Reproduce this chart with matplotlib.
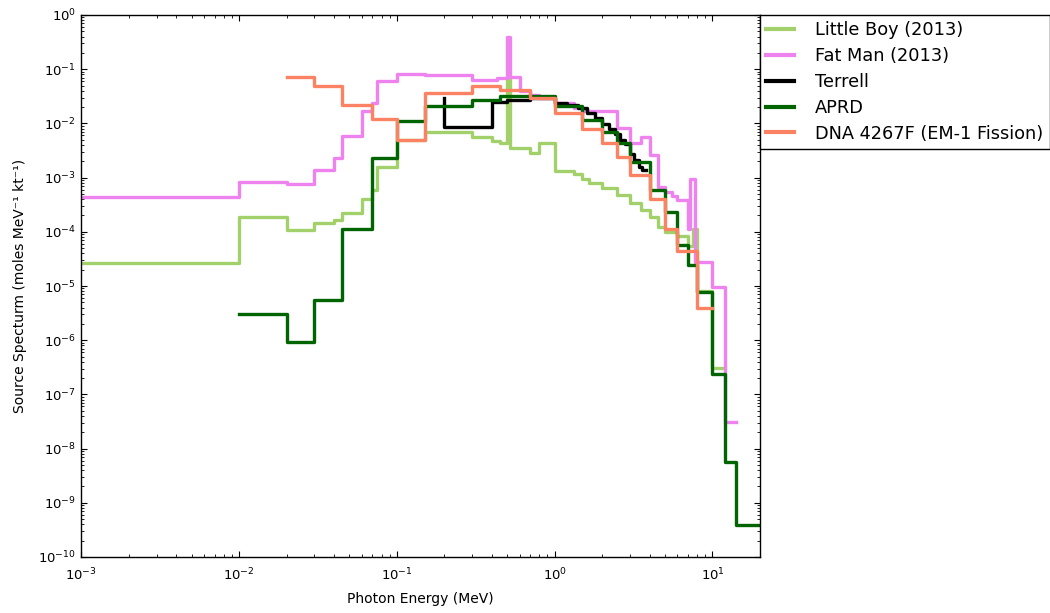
"""
Source photon spectra: Little Boy / Fat Man (2013), Terrell, APRD, DNA 4267F.
Step data, energy upper edges with 'pre' steps (first y = start level).
"""

import matplotlib
matplotlib.use("Agg")
import matplotlib.pyplot as plt
import matplotlib.ticker as ticker
import numpy as np

plt.rcParams.update({
    "font.family": "DejaVu Sans",
    "axes.linewidth": 1.0,
})

# ── data (MeV, moles MeV^-1 kt^-1) ────────────────────────────────────────────
lb_e = [1e-3, 0.01, 0.02, 0.03, 0.04, 0.045, 0.06, 0.07, 0.075, 0.1, 0.15,
        0.3, 0.4, 0.45, 0.5, 0.52, 0.7, 0.8, 1.0, 1.33, 1.5, 1.66, 2.0, 2.5,
        3.0, 3.5, 4.0, 4.5, 5.0, 6.0, 7.0, 7.5, 8.0, 10, 12]
lb_v = [2.7e-5, 2.7e-5, 1.9e-4, 1.07e-4, 1.47e-4, 1.64e-4, 2.27e-4, 3.95e-4,
        5.9e-4, 1.55e-3, 4.9e-3, 6.9e-3, 5.5e-3, 4.8e-3, 4.3e-3, 0.07,
        3.5e-3, 2.9e-3, 4.3e-3, 1.35e-3, 1.15e-3, 9.3e-4, 7.9e-4, 6.4e-4,
        4.8e-4, 3.4e-4, 2.5e-4, 1.9e-4, 1.25e-4, 1.0e-4, 8.5e-5, 5.5e-5,
        1.15e-4, 8e-6, 3.1e-7]

fm_e = [1e-3, 0.01, 0.02, 0.03, 0.04, 0.045, 0.06, 0.07, 0.075, 0.1, 0.15,
        0.3, 0.43, 0.5, 0.52, 0.6, 0.7, 0.8, 1.0, 1.33, 1.5, 2.5, 3.0, 3.5,
        4.0, 4.5, 5.0, 5.5, 6.0, 7.0, 7.2, 7.7, 10, 12, 14]
fm_v = [4.4e-4, 4.4e-4, 8.4e-4, 7.7e-4, 1.38e-3, 2.3e-3, 5.8e-3, 0.0172,
        0.0235, 0.06, 0.0815, 0.078, 0.062, 0.068, 0.39, 0.073, 0.040, 0.034,
        0.030, 0.024, 0.019, 0.0168, 8.1e-3, 4.3e-3, 5.7e-3, 2.6e-3, 6.7e-4,
        5.5e-4, 4.5e-4, 3.9e-4, 1.15e-4, 9.6e-4, 2.8e-5, 9.5e-6, 3.1e-8]

terrell_e = [0.2, 0.4, 0.5, 0.7, 1.0, 1.2, 1.4, 1.6, 1.8, 2.0, 2.2, 2.4, 2.6,
             2.8, 3.0, 3.2, 3.4, 3.6, 3.8]
terrell_v = [0.029, 8.7e-3, 0.025, 0.027, 0.029, 0.024, 0.022, 0.019, 0.0155,
             0.0125, 0.0098, 0.0078, 0.0063, 0.0050, 0.0042, 0.0027, 0.0021,
             0.0016, 0.0014]

aprd_e = [0.01, 0.02, 0.03, 0.045, 0.07, 0.1, 0.15, 0.3, 0.45, 1.0, 1.5, 2.0,
          2.5, 3.0, 4.0, 5.0, 6.0, 7.0, 8.0, 10, 12, 14, 20]
aprd_v = [3.0e-6, 3.0e-6, 9.4e-7, 5.5e-6, 1.15e-4, 2.3e-3, 0.0112, 0.021,
          0.027, 0.032, 0.021, 0.0115, 7.0e-3, 4.3e-3, 1.96e-3, 5.9e-4,
          2.3e-4, 5.6e-5, 2.4e-5, 7.8e-6, 2.4e-7, 5.6e-9, 3.9e-10]

dna_e = [0.02, 0.03, 0.045, 0.07, 0.1, 0.15, 0.3, 0.45, 0.7, 1.0, 1.5, 2.0,
         2.5, 3.0, 4.0, 5.0, 6.0, 8.0, 10]
dna_v = [0.073, 0.073, 0.048, 0.0215, 0.0119, 5.0e-3, 0.036, 0.049, 0.041,
         0.029, 0.0153, 7.8e-3, 4.3e-3, 2.4e-3, 1.1e-3, 4.0e-4, 1.15e-4,
         4.4e-5, 4.0e-6]

# decades shown on each axis
x_decades = [-3, -2, -1, 0, 1]
y_decades = [-10, -9, -8, -7, -6, -5, -4, -3, -2, -1, 0]

SERIES = [
    ("Little Boy (2013)",         lb_e,      lb_v,      "#a2d16b"),
    ("Fat Man (2013)",            fm_e,      fm_v,      "#ee82ee"),
    ("Terrell",                   terrell_e, terrell_v, "black"),
    ("APRD",                      aprd_e,    aprd_v,    "#006400"),
    ("DNA 4267F (EM-1 Fission)",  dna_e,     dna_v,     "#fb8262"),
]

# ── figure ────────────────────────────────────────────────────────────────────
W, H = 1050, 613
fig = plt.figure(figsize=(W / 100, H / 100), dpi=100)
ax = fig.add_axes([81.3 / W, 1 - 557 / H, (760 - 81.3) / W, (557 - 15) / H])

for name, e, v, color in SERIES:
    ax.step(e, v, where="pre", color=color, linewidth=2.4, label=name)

ax.set_xscale("log")
ax.set_yscale("log")
ax.set_xlim(1e-3, 20)
ax.set_ylim(1e-10, 1)

for axis, dec in ((ax.xaxis, x_decades), (ax.yaxis, y_decades)):
    axis.set_major_locator(ticker.FixedLocator([10.0 ** d for d in dec]))
    axis.set_major_formatter(ticker.LogFormatterSciNotation())
    axis.set_minor_locator(ticker.LogLocator(base=10, subs=np.arange(2, 10),
                                             numticks=15))
    axis.set_minor_formatter(ticker.NullFormatter())

ax.tick_params(which="both", direction="in", top=True, right=True,
               labelsize=9.5)
ax.tick_params(axis="x", pad=7)
ax.tick_params(axis="y", pad=4)
ax.tick_params(which="major", length=4, width=0.8)
ax.tick_params(which="minor", length=2, width=0.6)

ax.set_xlabel("Photon Energy (MeV)", fontsize=10, labelpad=6)
ax.set_ylabel("Source Specturm (moles MeV\u207b\u00b9 kt\u207b\u00b9)",
              fontsize=10, labelpad=8)

leg = ax.legend(loc="upper left", bbox_to_anchor=(1.0, 1.0), borderaxespad=0,
                fancybox=False, framealpha=1, edgecolor="black", fontsize=12.8,
                handlelength=1.55, handletextpad=1.2, labelspacing=0.44,
                borderpad=0.36)
leg.get_frame().set_linewidth(1.0)
for line in leg.get_lines():
    line.set_linewidth(3.0)

fig.savefig("out.png", dpi=100)
print("saved: out.png")
